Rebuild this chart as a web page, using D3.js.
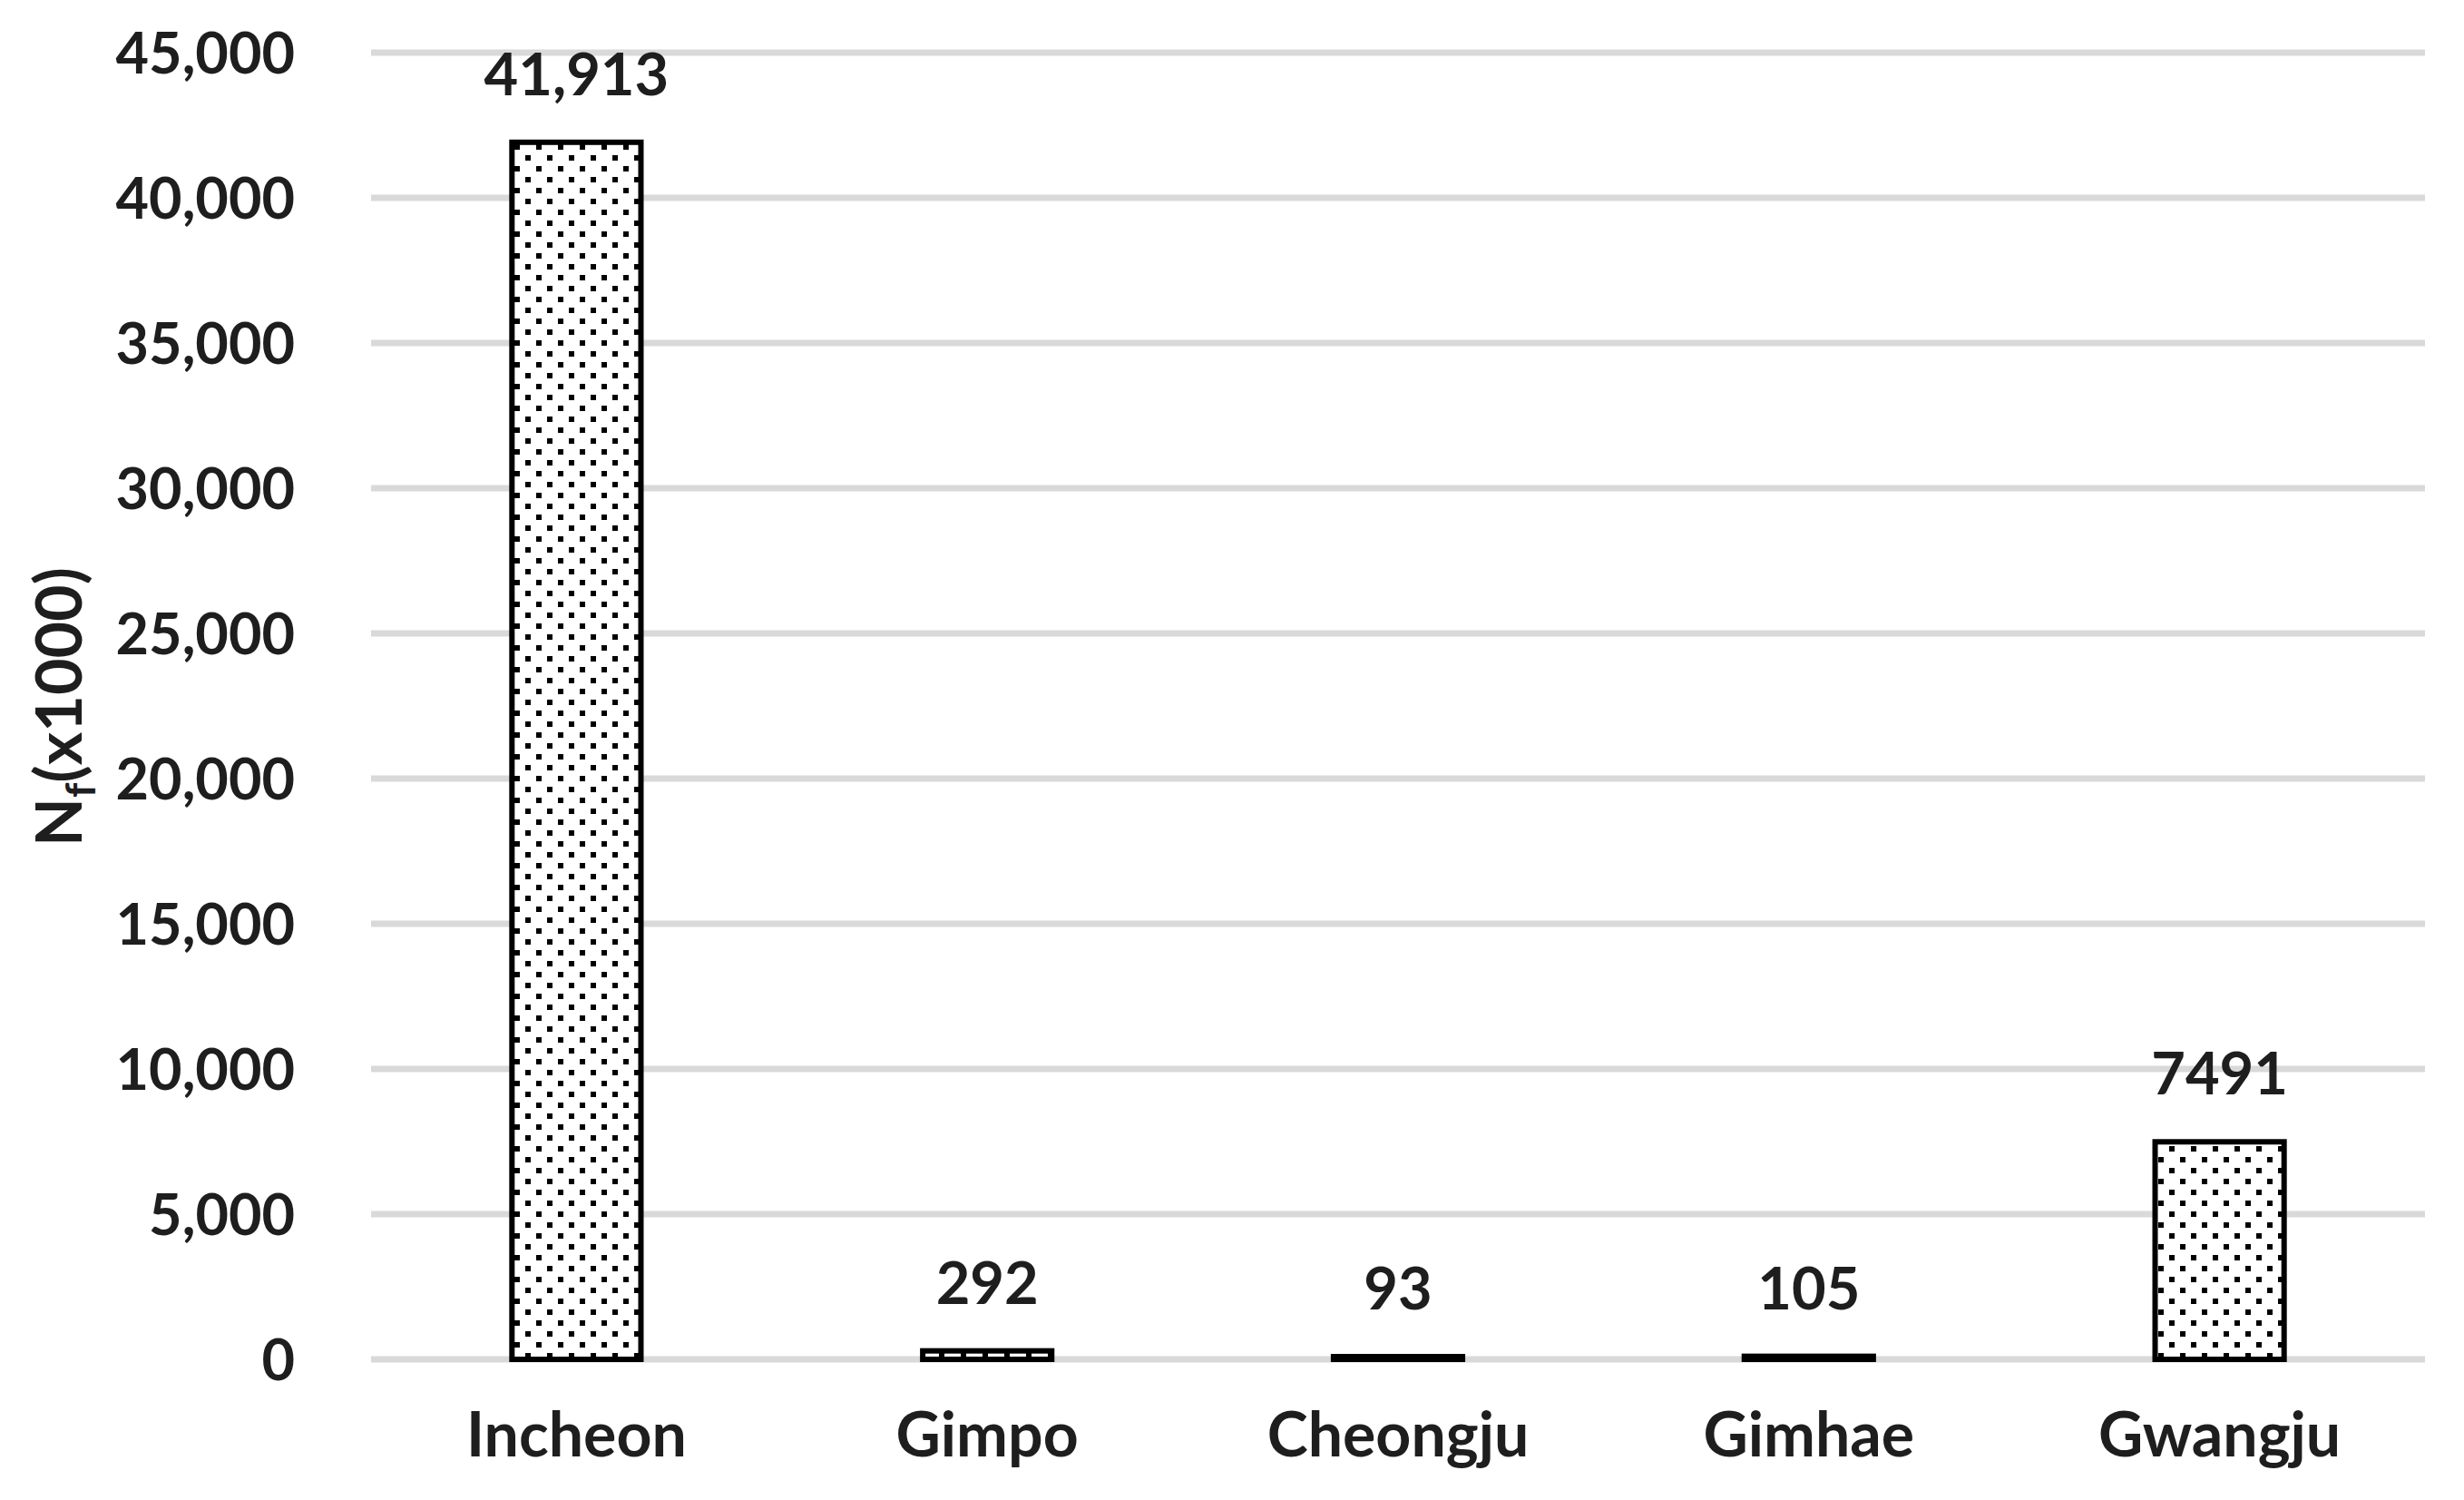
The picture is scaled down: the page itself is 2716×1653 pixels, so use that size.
<!DOCTYPE html>
<html>
<head>
  <title>Nf by airport</title>
  <style>
    body { margin: 0; background: #fff; }
    .tick-label, .cat-label, .value-label, .axis-title {
      font-family: Lato, "Open Sans", sans-serif;
      font-weight: bold;
      fill: #1e1e1e;
    }
  </style>
</head>
<body>
  <svg id="chart"></svg>

  <script src="https://d3js.org/d3.v7.min.js"></script>
  <script>
    // Chart data
    const airports = ["Incheon", "Gimpo", "Cheongju", "Gimhae", "Gwangju"];
    const flights = [41913, 292, 93, 105, 7491];
    const valueLabels = ["41,913", "292", "93", "105", "7491"];
    const yTicks = [0, 5000, 10000, 15000, 20000, 25000, 30000, 35000, 40000, 45000];

    const width = 2716;
    const height = 1653;
    const margin = { top: 58, right: 43, bottom: 155, left: 409 };

    const svg = d3.select("#chart")
      .attr("width", width)
      .attr("height", height);

    // dotted fill used by the bars
    const defs = svg.append("defs");
    const pattern = defs.append("pattern")
      .attr("id", "dots")
      .attr("patternUnits", "userSpaceOnUse")
      .attr("width", 24)
      .attr("height", 24);
    pattern.append("rect").attr("width", 24).attr("height", 24).attr("fill", "#fff");
    pattern.append("rect").attr("x", 3).attr("y", 3).attr("width", 6).attr("height", 6).attr("fill", "#000");
    pattern.append("rect").attr("x", 15).attr("y", 15).attr("width", 6).attr("height", 6).attr("fill", "#000");

    const x = d3.scaleBand()
      .domain(airports)
      .range([margin.left, width - margin.right])
      .paddingInner(0.686)
      .paddingOuter(0.343);

    const y = d3.scaleLinear()
      .domain([0, 45000])
      .range([height - margin.bottom, margin.top]);

    // gridlines
    svg.append("g")
      .selectAll("line")
      .data(yTicks)
      .enter()
      .append("line")
      .attr("x1", margin.left)
      .attr("x2", width - margin.right)
      .attr("y1", d => y(d))
      .attr("y2", d => y(d))
      .attr("stroke", "#d9d9d9")
      .attr("stroke-width", 7);

    // y tick labels
    svg.append("g")
      .selectAll("text")
      .data(yTicks)
      .enter()
      .append("text")
      .attr("class", "tick-label")
      .attr("x", 325)
      .attr("y", d => y(d))
      .attr("dy", "0.36em")
      .attr("text-anchor", "end")
      .style("font-size", "63px")
      .text(d => d3.format(",")(d));

    // bars
    const data = airports.map((a, i) => ({ airport: a, value: flights[i], label: valueLabels[i] }));

    svg.append("g")
      .selectAll("rect")
      .data(data)
      .enter()
      .append("rect")
      .attr("x", d => x(d.airport))
      .attr("y", d => y(d.value))
      .attr("width", x.bandwidth())
      .attr("height", d => y(0) - y(d.value))
      .attr("fill", "url(#dots)")
      .attr("stroke", "#000")
      .attr("stroke-width", 6);

    // value labels
    svg.append("g")
      .selectAll("text")
      .data(data)
      .enter()
      .append("text")
      .attr("class", "value-label")
      .attr("x", d => x(d.airport) + x.bandwidth() / 2)
      .attr("y", d => y(d.value) - 52)
      .attr("text-anchor", "middle")
      .style("font-size", "65px")
      .text(d => d.label);

    // category labels
    svg.append("g")
      .selectAll("text")
      .data(airports)
      .enter()
      .append("text")
      .attr("class", "cat-label")
      .attr("x", d => x(d) + x.bandwidth() / 2)
      .attr("y", 1605)
      .attr("text-anchor", "middle")
      .style("font-size", "68px")
      .text(d => d);

    // y axis title
    const title = svg.append("text")
      .attr("class", "axis-title")
      .attr("transform", "translate(90, 779) rotate(-90)")
      .attr("text-anchor", "middle")
      .style("font-size", "70px");
    title.append("tspan").text("N");
    title.append("tspan").attr("dy", 15).style("font-size", "46px").text("f");
    title.append("tspan").attr("dy", -15).text("(x1000)");
  </script>
</body>
</html>
